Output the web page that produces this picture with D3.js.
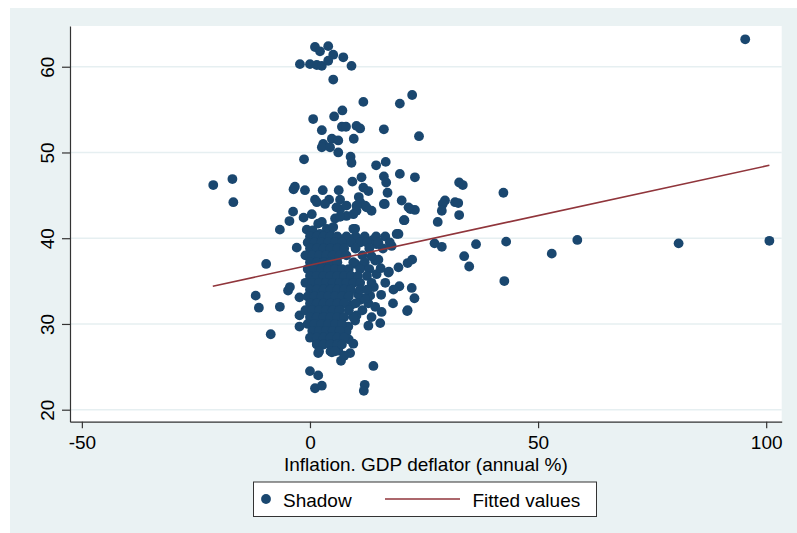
<!DOCTYPE html>
<html>
<head>
<meta charset="utf-8">
<script src="https://cdn.jsdelivr.net/npm/d3@7"></script>
<style>
  body { margin: 0; background: #fff; }
  svg { display: block; font-family: "Liberation Sans", Arial, sans-serif; }
</style>
</head>
<body>
<div id="chart"></div>
<script>
// inflation (x) vs shadow economy (y)
const points = [
  [1.1,62.3],[4.0,62.4],[2.2,61.8],[5.1,61.4],[7.3,61.1],[-2.2,60.3],[0,60.3],[1.5,60.2],[2.6,60.1],[4.0,60.7],[9.1,60.1],[5.1,58.5],
  [11.7,55.9],[19.7,55.7],[22.4,56.7],[23.9,51.9],[7.1,54.9],[5.3,54.2],[0.7,53.9],[2.6,52.6],[7.0,53.0],[7.9,53.0],[10.2,53.1],[11.0,52.8],
  [16.2,52.7],[4.8,51.6],[6.2,51.4],[2.9,51.0],[2.6,50.6],[4.4,50.6],[6.2,50.0],[9.6,51.6],[8.9,49.5],[9.1,48.8],[-1.3,49.2],[14.5,48.5],
  [16.6,48.9],[19.7,47.5],[23.0,47.1],[16.2,47.2],[16.7,46.5],[9.3,46.6],[11.3,47.1],[11.7,45.9],[12.8,45.5],[17.0,45.3],[-3.3,46.0],
  [-3.6,45.7],[-1.1,45.6],[2.8,45.6],[6.3,45.6],
  [-21.2,46.2],[-17.0,46.9],[-16.8,44.2],
  [-6.6,41.0],[-4.5,42.0],[-3.7,43.1],[-1.4,42.4],[0.4,42.8],[1.1,44.5],[4.2,44.5],[6.6,44.5],[10.7,44.8],[20.1,44.4],[16.2,44.0],
  [-2.9,38.9],[-9.6,37.0],[-11.9,33.3],[-11.2,31.9],[-8.6,28.8],[-6.6,32.0],[-4.8,33.9],[-4.4,34.3],[-2.3,33.1],[-2.3,31.0],[-2.3,29.7],
  [0,24.5],[1.8,24.0],[1.1,22.5],[2.6,22.8],[12.0,22.9],[11.8,22.2],[13.9,25.1],[6.8,25.7],[8.8,26.6],[1.8,26.6],
  [12.8,29.8],[15.4,30.1],[21.4,31.6],[18.2,32.4],[22.9,33.0],[22.3,34.2],[19.6,34.4],[18.3,34.0],[15.6,33.4],[15.7,31.4],[12.8,32.4],
  [14.3,32.0],[10.2,31.0],[9.9,30.4],[8.4,29.7],[8.0,29.1],
  [19.4,36.6],[21.4,37.1],[22.4,37.5],[17.3,36.1],[14.6,35.8],[19.4,40.5],[20.7,42.1],[22.0,43.4],[23.0,43.3],
  [32.7,46.5],[33.5,46.2],[42.4,45.3],[29.6,44.4],[29.1,44.0],[31.8,44.2],[32.5,44.1],[28.9,43.2],[32.7,42.7],[28.0,41.9],[27.3,39.4],
  [28.9,39.0],[36.4,39.3],[43.0,39.6],[33.8,37.9],[34.9,36.7],[42.6,35.0],[21.3,31.5],
  [95.4,63.2],[58.6,39.8],[53.0,38.2],[80.8,39.4],[100.7,39.7],
  [14.6,39.3],[17.9,39.1],[14.3,37.4],[15.0,37.5],[17.2,36.0],[10.2,39.9],
  [1.5,44.2],[2.6,41.9],[1.8,41.7],[3.7,41.1],[5.5,42.3],[6.6,43.4],[8.0,42.6],[9.5,41.1],[10.2,43.2],[11.0,44.2],[12.1,43.8],[13.5,43.2],
  [16.4,44.0],[21.6,43.6],[20.6,42.1],
  [6.2,26.9],[4.8,26.7],[1.5,27.7],[9.5,30.8],[11.0,32.8],[13.2,33.3],
  [8.0,43.8],[10.2,43.8],[12.4,43.6],[9.5,42.8],[9.9,41.1],[6.6,42.5],[4.4,40.9],[2.2,40.5],[5.1,41.3],[5.8,43.6],[3.3,44.0],
  [13.8,39.8],[19.0,40.5],[8.0,39.7],[-0.7,41.0],[0.6,40.9],
  [10,37.0],[11.5,36.8],[13.5,37.9],[15.5,36.5],[16.5,34.8],[14,34.3],[12,33.0],[10.5,33.5],[9,32.2],[11.5,31.6],
  [13.5,30.8],[8.5,28.2],[9.5,27.7],[7.5,26.3],
  // dense core
  [0,40.2],[1.5,40.2],[3,40.2],[4.5,40.2],[6,40.2],[8,40.2],[10,40.2],[12,40.2],[14.5,40.2],[16.5,40.2],
  [-0.5,39.5],[1,39.5],[2.5,39.5],[4,39.5],[5.5,39.5],[7,39.5],[9,39.5],[11,39.5],[12.5,39.5],[15,39.5],[17.5,39.5],
  [0,38.8],[1.5,38.8],[3,38.8],[4.5,38.8],[6,38.8],[7.5,38.8],[10,38.8],[13,38.8],[16,38.8],
  [-1,38.0],[0.5,38.0],[2,38.0],[3.5,38.0],[5,38.0],[6.5,38.0],[8,38.0],[11.5,38.0],
  [0,37.2],[1.5,37.2],[3,37.2],[4.5,37.2],[6,37.2],[9.5,37.2],[12,37.2],
  [-0.5,36.4],[1,36.4],[2.5,36.4],[4,36.4],[5.5,36.4],[7,36.4],[8.5,36.4],[11,36.4],[13,36.4],
  [0,35.6],[1.5,35.6],[3,35.6],[4.5,35.6],[6,35.6],[7.5,35.6],[9,35.6],[10.5,35.6],[12.5,35.6],
  [-1,34.8],[0.5,34.8],[2,34.8],[3.5,34.8],[5,34.8],[6.5,34.8],[8,34.8],[9.5,34.8],[11,34.8],[13.5,34.8],
  [0,34.0],[1.5,34.0],[3,34.0],[4.5,34.0],[6,34.0],[7.5,34.0],[9,34.0],[11,34.0],[12.5,34.0],
  [-0.5,33.2],[1,33.2],[2.5,33.2],[4,33.2],[5.5,33.2],[7,33.2],[8.5,33.2],
  [0,32.4],[1.5,32.4],[3,32.4],[4.5,32.4],[6,32.4],[7.5,32.4],[10,32.4],
  [-1,31.6],[0.5,31.6],[2,31.6],[3.5,31.6],[5,31.6],[6.5,31.6],[8.5,31.6],
  [0,30.8],[1.5,30.8],[3,30.8],[4.5,30.8],[6,30.8],[7.5,30.8],
  [-0.5,30.0],[1,30.0],[2.5,30.0],[4,30.0],[5.5,30.0],[7,30.0],
  [0.5,29.2],[2,29.2],[3.5,29.2],[5,29.2],[6.5,29.2],
  [0,28.4],[1.5,28.4],[3,28.4],[4.5,28.4],[6,28.4],[7.5,28.4],
  [1.5,27.6],[3,27.6],[4.5,27.6],[6,27.6],[7,27.6],
  [2,26.8],[4.5,26.8],[5.5,26.8]
];

// fitted values endpoints
const fitX = [-21.3, 100.7];
const fitY = [34.4, 48.5];

const xTicks = [-50, 0, 50, 100];
const yTicks = [20, 30, 40, 50, 60];

const W = 797, H = 533;
const plot = { left: 70, right: 781.7, top: 26, bottom: 421.7 };
const bg = "#eaf2f3";
const navy = "#1a476f";
const maroon = "#90353b";
const fontSize = "19px";

const svg = d3.select("#chart").append("svg")
    .attr("width", W)
    .attr("height", H);

svg.append("rect")
    .attr("x", 10).attr("y", 8)
    .attr("width", W - 10).attr("height", H - 8)
    .attr("fill", bg);

svg.append("rect")
    .attr("x", plot.left).attr("y", plot.top)
    .attr("width", plot.right - plot.left).attr("height", plot.bottom - plot.top)
    .attr("fill", "#fff");

const x = d3.scaleLinear().domain([-52.6, 103.4]).range([plot.left, plot.right]);
const y = d3.scaleLinear().domain([18.6, 64.75]).range([plot.bottom, plot.top]);

// grid
svg.append("g")
    .selectAll("line")
    .data(yTicks)
    .enter()
    .append("line")
    .attr("x1", plot.left).attr("x2", plot.right)
    .attr("y1", d => y(d)).attr("y2", d => y(d))
    .attr("stroke", "#e6eff1")
    .attr("stroke-width", 1.6);

// scatter
svg.append("g")
    .selectAll("circle")
    .data(points)
    .enter()
    .append("circle")
    .attr("cx", d => x(d[0]))
    .attr("cy", d => y(d[1]))
    .attr("r", 4.9)
    .attr("fill", navy);

// fitted line
const fitData = fitX.map((v, i) => [v, fitY[i]]);
svg.append("path")
    .datum(fitData)
    .attr("fill", "none")
    .attr("stroke", maroon)
    .attr("stroke-width", 1.6)
    .attr("d", d3.line().x(d => x(d[0])).y(d => y(d[1])));

// axes
const yAxis = svg.append("g")
    .attr("transform", `translate(${plot.left},0)`)
    .call(d3.axisLeft(y).tickValues(yTicks).tickSize(8).tickSizeOuter(0).tickFormat(d => String(d)));
yAxis.selectAll("text")
    .attr("x", 0).attr("dy", 0)
    .attr("text-anchor", "middle")
    .attr("transform", "translate(-16.5,0) rotate(-90)")
    .style("font-size", fontSize)
    .attr("fill", "#000");

const xAxis = svg.append("g")
    .attr("transform", `translate(0,${plot.bottom})`)
    .call(d3.axisBottom(x).tickValues(xTicks).tickSize(6.5).tickSizeOuter(0).tickFormat(d => String(d)));
xAxis.selectAll("text")
    .attr("y", 27).attr("dy", 0)
    .style("font-size", fontSize)
    .attr("fill", "#000");

svg.selectAll(".domain, .tick line").attr("stroke", "#333").attr("stroke-width", 1.2);

svg.append("text")
    .attr("x", (plot.left + plot.right) / 2)
    .attr("y", 470.5)
    .attr("text-anchor", "middle")
    .style("font-size", fontSize)
    .text("Inflation. GDP deflator (annual %)");

// legend
const legend = svg.append("g");
legend.append("rect")
    .attr("x", 253.5).attr("y", 482)
    .attr("width", 343).attr("height", 34.5)
    .attr("fill", "#fff")
    .attr("stroke", "#333")
    .attr("stroke-width", 1);
legend.append("circle")
    .attr("cx", 266).attr("cy", 499)
    .attr("r", 4.9)
    .attr("fill", navy);
legend.append("text")
    .attr("x", 283).attr("y", 506.5)
    .style("font-size", fontSize)
    .text("Shadow");
legend.append("line")
    .attr("x1", 385).attr("x2", 460)
    .attr("y1", 499).attr("y2", 499)
    .attr("stroke", maroon)
    .attr("stroke-width", 1.6);
legend.append("text")
    .attr("x", 472.5).attr("y", 506.5)
    .style("font-size", fontSize)
    .text("Fitted values");
</script>
</body>
</html>
